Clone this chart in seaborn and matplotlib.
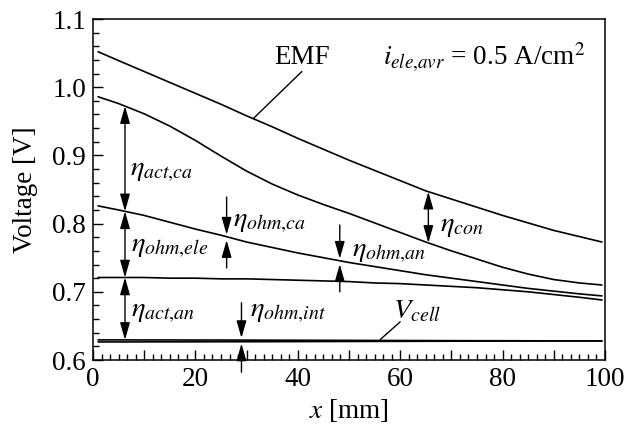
import numpy as np
import pandas as pd
import matplotlib
matplotlib.use("Agg")
import matplotlib.pyplot as plt
from matplotlib.ticker import MultipleLocator, FuncFormatter
import seaborn as sns

# distance along the channel [mm]
x_mm = [1, 5, 10, 15, 20, 25, 30, 35, 40, 45, 50,
        55, 60, 65, 70, 75, 80, 85, 90, 95, 99.4]

# voltage curves [V]
emf = [1.052, 1.039, 1.023, 1.007, 0.991, 0.975, 0.958, 0.942, 0.925, 0.909, 0.893,
       0.878, 0.863, 0.848, 0.836, 0.824, 0.812, 0.801, 0.790, 0.781, 0.773]
v_act_ca = [0.986, 0.976, 0.961, 0.943, 0.922, 0.899, 0.877, 0.858, 0.842, 0.828, 0.815,
            0.801, 0.787, 0.773, 0.760, 0.748, 0.736, 0.726, 0.718, 0.713, 0.710]
v_ohm = [0.826, 0.820, 0.812, 0.802, 0.792, 0.783, 0.773, 0.765, 0.757, 0.750, 0.743,
         0.737, 0.731, 0.725, 0.720, 0.715, 0.710, 0.705, 0.701, 0.697, 0.694]
v_act_an = [0.721, 0.721, 0.721, 0.720, 0.720, 0.719, 0.719, 0.718, 0.717, 0.716, 0.715,
            0.713, 0.712, 0.710, 0.708, 0.706, 0.703, 0.700, 0.696, 0.692, 0.688]
v_cell_hi = [0.6295, 0.6295, 0.6294, 0.6294, 0.6293, 0.6293, 0.6292, 0.6291, 0.6290, 0.6289, 0.6288,
             0.6287, 0.6286, 0.6285, 0.6284, 0.6283, 0.6283, 0.6282, 0.6281, 0.6281, 0.6280]
v_cell_lo = [0.6265, 0.6265, 0.6266, 0.6266, 0.6267, 0.6268, 0.6268, 0.6269, 0.6270, 0.6271, 0.6272,
             0.6273, 0.6274, 0.6275, 0.6276, 0.6277, 0.6278, 0.6278, 0.6279, 0.6279, 0.6280]

curves = {"EMF": emf, "c2": v_act_ca, "c3": v_ohm, "c4": v_act_an,
          "cell_hi": v_cell_hi, "cell_lo": v_cell_lo}
df = pd.concat([pd.DataFrame({"x": x_mm, "V": v, "curve": k}) for k, v in curves.items()])

sns.set_theme(style="ticks")
plt.rcParams["font.family"] = ["Liberation Serif", "DejaVu Serif"]
plt.rcParams["mathtext.fontset"] = "stix"
for key in ["text.color", "axes.labelcolor", "xtick.color", "ytick.color", "axes.edgecolor"]:
    plt.rcParams[key] = "black"
FS = 19.5

fig = plt.figure(figsize=(6.4, 4.29), dpi=100)
ax = fig.add_axes([0.1453, 0.1608, 0.8, 0.7949])

sns.lineplot(data=df, x="x", y="V", hue="curve", palette=["black"] * 6,
             legend=False, linewidth=1.2, ax=ax, sort=False)

ax.set_xlim(0, 100)
ax.set_ylim(0.6, 1.1)
ax.xaxis.set_major_locator(MultipleLocator(10))
ax.xaxis.set_minor_locator(MultipleLocator(10 / 6))
ax.xaxis.set_major_formatter(FuncFormatter(lambda v, p: f"{v:.0f}" if round(v) % 20 == 0 else ""))
ax.yaxis.set_major_locator(MultipleLocator(0.1))
ax.yaxis.set_minor_locator(MultipleLocator(0.02))
ax.yaxis.set_major_formatter(FuncFormatter(lambda v, p: f"{v:.1f}"))
ax.tick_params(which="both", direction="in", top=False, right=False, labelsize=FS,
               width=1.0, color="black", labelcolor="black")
ax.tick_params(which="major", length=7, pad=5)
ax.tick_params(which="minor", length=4)
for s in ax.spines.values():
    s.set_linewidth(1.1)
    s.set_color("black")

ax.set_xlabel(r"$x$ [mm]", fontsize=FS, color="black")
ax.set_ylabel("Voltage [V]", fontsize=FS, color="black")
ax.xaxis.set_label_coords(0.5, -0.108)
ax.yaxis.set_label_coords(-0.108, 0.5)


def at(curve, xv):
    return float(np.interp(xv, x_mm, curve))


def arrow(x, y0, y1, style):
    ax.annotate("", xy=(x, y1), xytext=(x, y0), annotation_clip=False,
                arrowprops=dict(arrowstyle=style + ",head_length=0.7,head_width=0.2",
                                color="black", lw=1.0, shrinkA=0, shrinkB=0,
                                mutation_scale=15))


# double arrows between curves
xa = 6.25
arrow(xa, at(v_act_ca, xa), at(v_ohm, xa), "<|-|>")
arrow(xa, at(v_ohm, xa), at(v_act_an, xa), "<|-|>")
arrow(xa, at(v_act_an, xa), at(v_cell_hi, xa), "<|-|>")
xc = 65.5
arrow(xc, at(emf, xc), at(v_act_ca, xc), "<|-|>")

# pairs of single arrows pointing at thin gaps
for xp, top, bot, ref in [(26.1, 0.839, 0.735, v_ohm), (48.2, 0.798, 0.700, v_ohm),
                          (29.0, 0.684, 0.582, v_cell_hi)]:
    y = at(ref, xp)
    arrow(xp, top, y + 0.003, "-|>")
    arrow(xp, bot, y - 0.005, "-|>")

labels = [
    (7.2, 0.877, r"$\eta_{act{,}ca}$"),
    (7.5, 0.765, r"$\eta_{ohm{,}ele}$"),
    (7.5, 0.670, r"$\eta_{act{,}an}$"),
    (27.4, 0.802, r"$\eta_{ohm{,}ca}$"),
    (50.5, 0.758, r"$\eta_{ohm{,}an}$"),
    (67.8, 0.796, r"$\eta_{con}$"),
    (30.7, 0.670, r"$\eta_{ohm{,}int}$"),
    (58.6, 0.671, r"$V_{cell}$"),
]
for lx, ly, txt in labels:
    ax.text(lx, ly, txt, fontsize=FS + 1, ha="left", va="center", color="black")

ax.text(40.8, 1.044, "EMF", fontsize=FS, ha="center", va="center", color="black")
ax.plot([40.8, 31.3], [1.023, 0.954], color="black", lw=1.0)
ax.plot([60.0, 56.1], [0.656, 0.630], color="black", lw=1.0)
ax.text(56.6, 1.043, r"$i_{ele{,}avr}$ = 0.5 A/cm$^2$", fontsize=FS, ha="left", va="center", color="black")

fig.savefig("out.png", dpi=100)
